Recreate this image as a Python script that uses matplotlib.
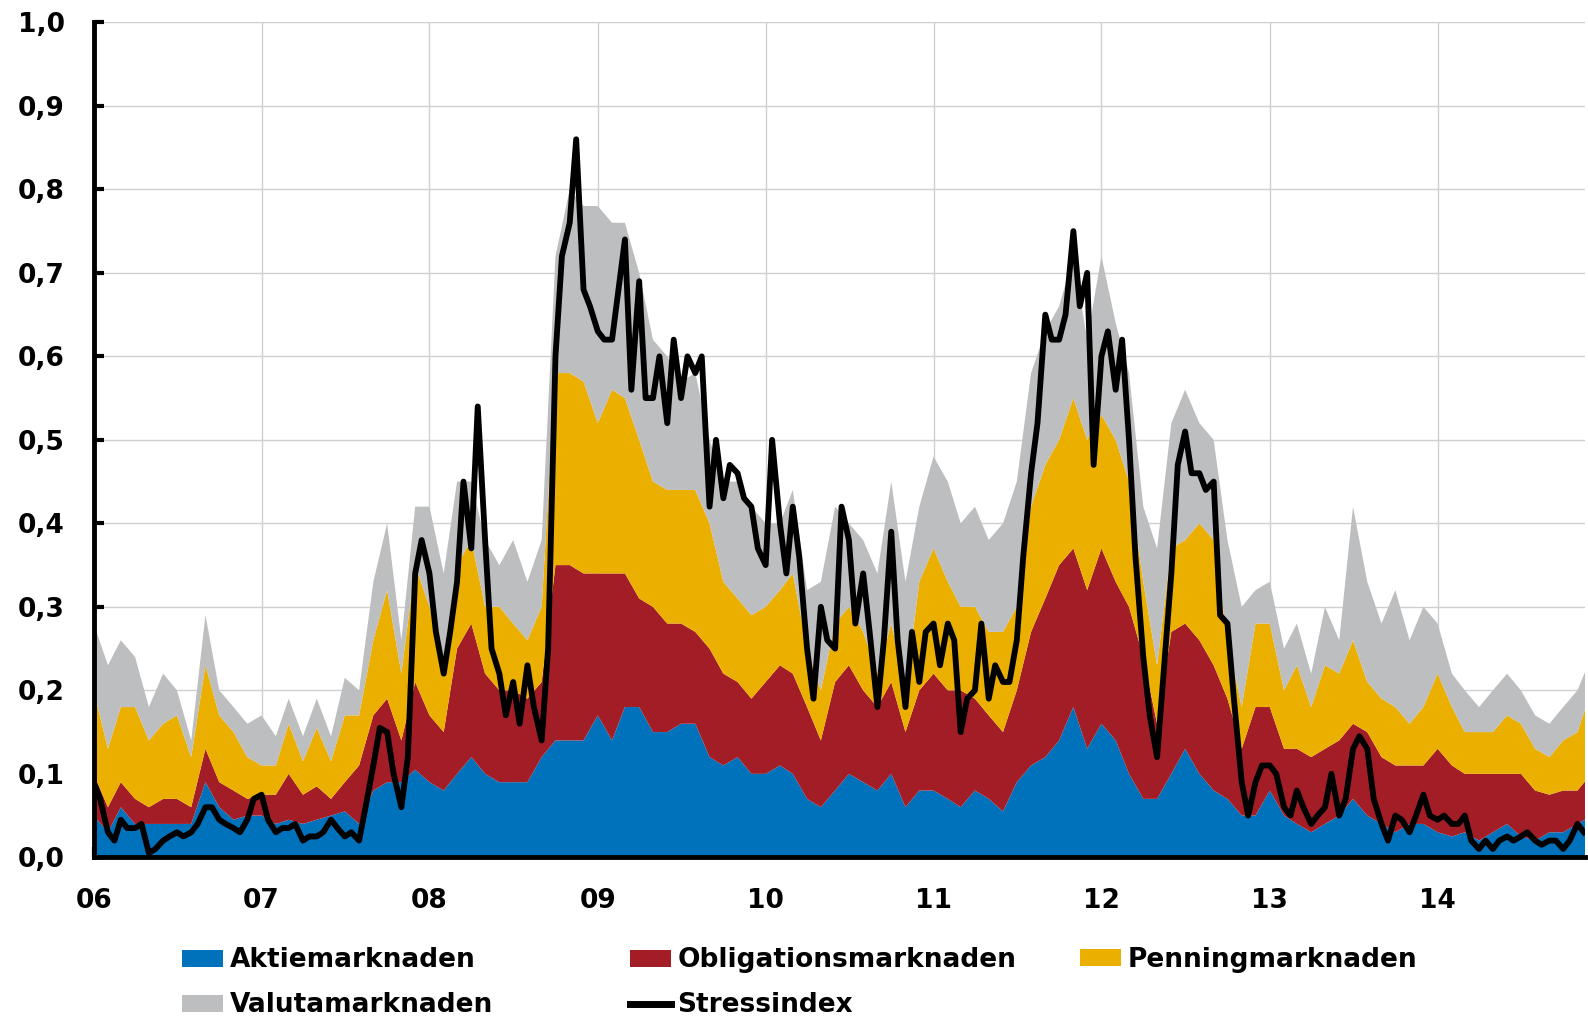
import matplotlib
matplotlib.use('Agg')
import matplotlib.pyplot as plt
from matplotlib.patches import Patch
from matplotlib.lines import Line2D
import numpy as np
import pandas as pd

plt.rcParams['font.family'] = 'DejaVu Sans'
plt.rcParams['font.weight'] = 'bold'

# monthly layer contributions, Jan 2006 .. Dec 2014
aktie = [
    0.05, 0.03, 0.06, 0.04, 0.04, 0.04, 0.04, 0.04, 0.09, 0.06, 0.045, 0.05,
    0.05, 0.04, 0.045, 0.04, 0.045, 0.05, 0.055, 0.04, 0.08, 0.09, 0.09, 0.105,
    0.09, 0.08, 0.10, 0.12, 0.10, 0.09, 0.09, 0.09, 0.12, 0.14, 0.14, 0.14,
    0.17, 0.14, 0.18, 0.18, 0.15, 0.15, 0.16, 0.16, 0.12, 0.11, 0.12, 0.10,
    0.10, 0.11, 0.10, 0.07, 0.06, 0.08, 0.10, 0.09, 0.08, 0.10, 0.06, 0.08,
    0.08, 0.07, 0.06, 0.08, 0.07, 0.055, 0.09, 0.11, 0.12, 0.14, 0.18, 0.13,
    0.16, 0.14, 0.10, 0.07, 0.07, 0.10, 0.13, 0.10, 0.08, 0.07, 0.05, 0.05,
    0.08, 0.05, 0.04, 0.03, 0.04, 0.05, 0.07, 0.05, 0.04, 0.03, 0.04, 0.04,
    0.03, 0.025, 0.03, 0.02, 0.03, 0.04, 0.025, 0.02, 0.03, 0.03, 0.04, 0.05,
]
oblig = [
    0.05, 0.03, 0.03, 0.03, 0.02, 0.03, 0.03, 0.02, 0.04, 0.03, 0.035, 0.02,
    0.025, 0.035, 0.055, 0.035, 0.04, 0.02, 0.035, 0.07, 0.09, 0.10, 0.05, 0.105,
    0.08, 0.07, 0.15, 0.16, 0.12, 0.11, 0.11, 0.10, 0.09, 0.21, 0.21, 0.20,
    0.17, 0.20, 0.16, 0.13, 0.15, 0.13, 0.12, 0.11, 0.13, 0.11, 0.09, 0.09,
    0.11, 0.12, 0.12, 0.11, 0.08, 0.13, 0.13, 0.11, 0.10, 0.11, 0.09, 0.12,
    0.14, 0.13, 0.14, 0.11, 0.10, 0.095, 0.11, 0.16, 0.19, 0.21, 0.19, 0.19,
    0.21, 0.19, 0.20, 0.17, 0.09, 0.17, 0.15, 0.16, 0.15, 0.12, 0.08, 0.13,
    0.10, 0.08, 0.09, 0.09, 0.09, 0.09, 0.09, 0.10, 0.08, 0.08, 0.07, 0.07,
    0.10, 0.085, 0.07, 0.08, 0.07, 0.06, 0.075, 0.06, 0.045, 0.05, 0.04, 0.05,
]
penning = [
    0.10, 0.07, 0.09, 0.11, 0.08, 0.09, 0.10, 0.06, 0.10, 0.08, 0.07, 0.05,
    0.035, 0.035, 0.06, 0.04, 0.07, 0.045, 0.08, 0.06, 0.09, 0.13, 0.08, 0.14,
    0.13, 0.09, 0.10, 0.10, 0.08, 0.10, 0.08, 0.07, 0.09, 0.23, 0.23, 0.23,
    0.18, 0.22, 0.21, 0.19, 0.15, 0.16, 0.16, 0.17, 0.15, 0.11, 0.10, 0.10,
    0.09, 0.09, 0.12, 0.07, 0.06, 0.07, 0.07, 0.07, 0.04, 0.07, 0.05, 0.13,
    0.15, 0.13, 0.10, 0.11, 0.10, 0.12, 0.10, 0.15, 0.16, 0.15, 0.18, 0.18,
    0.16, 0.17, 0.15, 0.09, 0.07, 0.10, 0.10, 0.14, 0.15, 0.07, 0.05, 0.10,
    0.10, 0.07, 0.10, 0.06, 0.10, 0.08, 0.10, 0.06, 0.07, 0.07, 0.05, 0.07,
    0.09, 0.07, 0.05, 0.05, 0.05, 0.07, 0.06, 0.05, 0.045, 0.06, 0.07, 0.10,
]
valuta = [
    0.08, 0.10, 0.08, 0.06, 0.04, 0.06, 0.03, 0.02, 0.06, 0.03, 0.03, 0.04,
    0.06, 0.035, 0.03, 0.03, 0.035, 0.03, 0.045, 0.03, 0.07, 0.08, 0.04, 0.07,
    0.12, 0.10, 0.10, 0.07, 0.08, 0.05, 0.10, 0.07, 0.08, 0.14, 0.22, 0.21,
    0.26, 0.20, 0.21, 0.20, 0.17, 0.16, 0.13, 0.14, 0.10, 0.12, 0.14, 0.13,
    0.10, 0.08, 0.10, 0.07, 0.13, 0.14, 0.10, 0.11, 0.12, 0.17, 0.13, 0.09,
    0.11, 0.12, 0.10, 0.12, 0.11, 0.13, 0.15, 0.16, 0.16, 0.16, 0.17, 0.12,
    0.19, 0.14, 0.13, 0.09, 0.14, 0.15, 0.18, 0.12, 0.12, 0.12, 0.12, 0.04,
    0.05, 0.05, 0.05, 0.04, 0.07, 0.04, 0.16, 0.12, 0.09, 0.14, 0.10, 0.12,
    0.06, 0.04, 0.05, 0.03, 0.05, 0.05, 0.04, 0.04, 0.04, 0.04, 0.05, 0.04,
]

# stress index, twice a month (1st and 15th), Jan 2006 .. mid Nov 2014
stress = [
    0.09, 0.07, 0.03, 0.02, 0.045, 0.035, 0.035, 0.04, 0.005, 0.01, 0.02, 0.025,
    0.03, 0.025, 0.03, 0.04, 0.06, 0.06, 0.045, 0.04, 0.035, 0.03, 0.045, 0.07,
    0.075, 0.045, 0.03, 0.035, 0.035, 0.04, 0.02, 0.025, 0.025, 0.03, 0.045, 0.035,
    0.025, 0.03, 0.02, 0.06, 0.11, 0.155, 0.15, 0.10, 0.06, 0.12, 0.34, 0.38,
    0.34, 0.27, 0.22, 0.27, 0.33, 0.45, 0.37, 0.54, 0.38, 0.25, 0.22, 0.17,
    0.21, 0.16, 0.23, 0.18, 0.14, 0.25, 0.60, 0.72, 0.76, 0.86, 0.68, 0.66,
    0.63, 0.62, 0.62, 0.68, 0.74, 0.56, 0.69, 0.55, 0.55, 0.60, 0.52, 0.62,
    0.55, 0.60, 0.58, 0.60, 0.42, 0.50, 0.43, 0.47, 0.46, 0.43, 0.42, 0.37,
    0.35, 0.50, 0.40, 0.34, 0.42, 0.36, 0.25, 0.19, 0.30, 0.26, 0.25, 0.42,
    0.38, 0.28, 0.34, 0.27, 0.18, 0.26, 0.39, 0.26, 0.18, 0.27, 0.21, 0.27,
    0.28, 0.23, 0.28, 0.26, 0.15, 0.19, 0.20, 0.28, 0.19, 0.23, 0.21, 0.21,
    0.26, 0.36, 0.46, 0.52, 0.65, 0.62, 0.62, 0.65, 0.75, 0.66, 0.70, 0.47,
    0.60, 0.63, 0.56, 0.62, 0.50, 0.36, 0.24, 0.17, 0.12, 0.22, 0.34, 0.47,
    0.51, 0.46, 0.46, 0.44, 0.45, 0.29, 0.28, 0.19, 0.09, 0.05, 0.09, 0.11,
    0.11, 0.10, 0.06, 0.05, 0.08, 0.06, 0.04, 0.05, 0.06, 0.10, 0.05, 0.07,
    0.13, 0.145, 0.13, 0.07, 0.04, 0.02, 0.05, 0.045, 0.03, 0.05, 0.075, 0.05,
    0.045, 0.05, 0.04, 0.04, 0.05, 0.02, 0.01, 0.02, 0.01, 0.02, 0.025, 0.02,
    0.025, 0.03, 0.02, 0.015, 0.02, 0.02, 0.01, 0.02, 0.04, 0.03,
]

layer_names = ['Aktiemarknaden', 'Obligationsmarknaden', 'Penningmarknaden', 'Valutamarknaden']
layer_colors = ['#0072BC', '#A21D25', '#EBAF00', '#BDBEC0']
year_labels = ['06', '07', '08', '09', '10', '11', '12', '13', '14']

dates_m = pd.date_range('2006-01-01', periods=len(aktie), freq='MS')
dates_s = pd.date_range('2006-01-01', periods=len(stress), freq='SMS')

fs = 19

fig = plt.figure(figsize=(15.88, 10.17), dpi=100)
ax = fig.add_axes([0.059, 0.157, 0.939, 0.821])

ax.stackplot(dates_m, aktie, oblig, penning, valuta, colors=layer_colors,
             linewidth=0, zorder=2)
ax.plot(dates_s, stress, color='black', linewidth=4.2, zorder=3,
        solid_joinstyle='round')

ax.set_ylim(0, 1)
yt = np.round(np.arange(0, 1.01, 0.1), 1)
ax.set_yticks(yt)
ax.set_yticklabels([f'{v:.1f}'.replace('.', ',') for v in yt], fontsize=fs, fontweight='bold')

ax.set_xlim(pd.Timestamp('2006-01-01'), pd.Timestamp('2014-11-17'))
xt = [pd.Timestamp(f'20{y}-01-01') for y in year_labels]
ax.set_xticks(xt)
ax.set_xticklabels(year_labels, fontsize=fs, fontweight='bold')

ax.grid(True, color='#d0d0d0', linewidth=1.0, zorder=0)
ax.set_axisbelow(True)
for s in ['top', 'right']:
    ax.spines[s].set_visible(False)
for s in ['left', 'bottom']:
    ax.spines[s].set_linewidth(3.5)
    ax.spines[s].set_zorder(5)
ax.tick_params(axis='y', direction='in', length=7, width=3, pad=21)
ax.tick_params(axis='x', direction='in', length=7, width=3, pad=22)

patches = [Patch(facecolor=c, edgecolor='none') for c in layer_colors]
stress_handle = Line2D([], [], color='black', linewidth=5)

leg_kw = dict(frameon=False, borderpad=0, borderaxespad=0,
              handlelength=1.55, handleheight=0.62, handletextpad=0.25,
              labelspacing=0.72, prop={'weight': 'bold', 'size': fs})

fig.legend([patches[0], patches[3]], [layer_names[0], layer_names[3]],
           loc='center left', bbox_to_anchor=(0.1146, 0.0335), **leg_kw)
fig.legend([patches[1], stress_handle], [layer_names[1], 'Stressindex'],
           loc='center left', bbox_to_anchor=(0.3967, 0.0335), **leg_kw)
fig.legend([patches[2]], [layer_names[2]],
           loc='center left', bbox_to_anchor=(0.680, 0.0565), **leg_kw)

fig.savefig('out.png', dpi=100)
